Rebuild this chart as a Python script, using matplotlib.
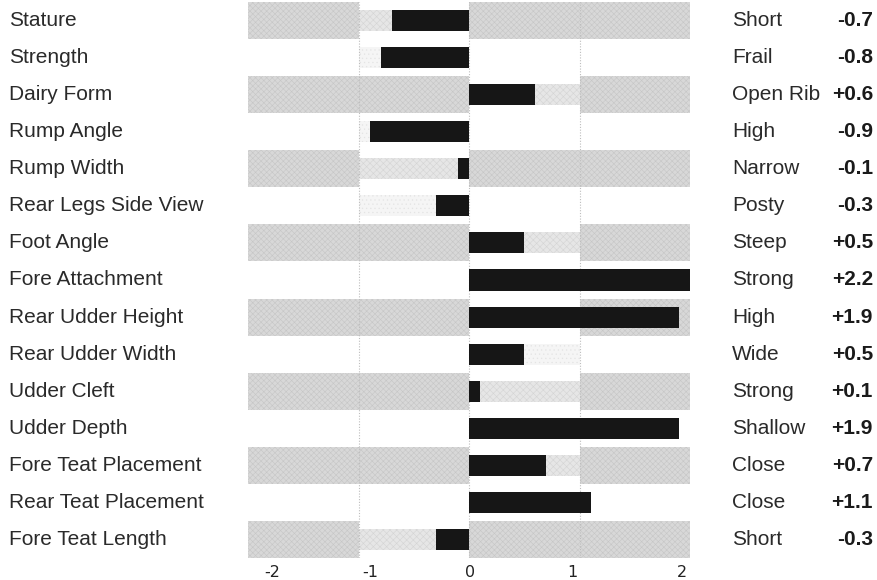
import matplotlib
matplotlib.use("Agg")
import matplotlib.pyplot as plt
import matplotlib.transforms as mtransforms
import numpy as np

traits = ["Stature", "Strength", "Dairy Form", "Rump Angle", "Rump Width",
          "Rear Legs Side View", "Foot Angle", "Fore Attachment",
          "Rear Udder Height", "Rear Udder Width", "Udder Cleft",
          "Udder Depth", "Fore Teat Placement", "Rear Teat Placement",
          "Fore Teat Length"]
descriptors = ["Short", "Frail", "Open Rib", "High", "Narrow", "Posty",
               "Steep", "Strong", "High", "Wide", "Strong", "Shallow",
               "Close", "Close", "Short"]
values = [-0.7, -0.8, 0.6, -0.9, -0.1, -0.3, 0.5, 2.2, 1.9, 0.5, 0.1,
          1.9, 0.7, 1.1, -0.3]

# tick labels sit a bit inside the grid lines in the original
tick_pos = [-1.78, -0.89, 0.01, 0.94, 1.93]
tick_labels = ["-2", "-1", "0", "1", "2"]

plt.rcParams["font.family"] = ["Liberation Sans", "DejaVu Sans"]
plt.rcParams["hatch.linewidth"] = 0.4

fig = plt.figure(figsize=(8.77, 5.8), dpi=100)
ax = fig.add_axes([248 / 877, 1 - 558 / 580, 442 / 877, 556 / 580])

band_gray = "#d8d8d8"
band_light = "#e6e6e6"
white_light = "#f5f5f5"
bar_h = 0.57

for i, v in enumerate(values):
    side = 1 if v >= 0 else -1
    if i % 2 == 0:
        ax.barh(i, 4, left=-2, height=1, color=band_gray, hatch="xxxxxx",
                edgecolor="#c6c6c6", linewidth=0, zorder=1)
        ax.barh(i, side, left=0, height=1, color="white", linewidth=0,
                zorder=2)
        ax.barh(i, side, left=0, height=bar_h, color=band_light,
                hatch="xxxxx", edgecolor="#d4d4d4", linewidth=0, zorder=3)
    else:
        ax.barh(i, side, left=0, height=bar_h, color=white_light,
                hatch="....", edgecolor="#e4e4e4", linewidth=0, zorder=3)
    ax.barh(i, v, left=0, height=bar_h, color="#161616", linewidth=0,
            zorder=5)

for gx in [-1, 0, 1]:
    ax.axvline(gx, color="#bdbdbd", linewidth=0.8, linestyle=(0, (1, 1.5)),
               zorder=4)

ax.set_xlim(-2, 2)
ax.set_ylim(len(values) - 0.5, -0.5)
ax.set_yticks([])
ax.set_xticks(tick_pos, labels=tick_labels)
ax.tick_params(axis="x", length=0, pad=5, labelsize=11.5, colors="#222222")
for lbl in ax.get_xticklabels():
    lbl.set_family(["DejaVu Sans"])
for s in ax.spines.values():
    s.set_visible(False)

trans = mtransforms.blended_transform_factory(fig.transFigure, ax.transData)
for i, (t, d, v) in enumerate(zip(traits, descriptors, values)):
    ax.text(9 / 877, i, t, transform=trans, ha="left", va="center",
            fontsize=15, color="#2a2a2a")
    ax.text(732 / 877, i, d, transform=trans, ha="left", va="center",
            fontsize=15, color="#2a2a2a")
    ax.text(873 / 877, i, f"{v:+.1f}", transform=trans, ha="right",
            va="center", fontsize=15, fontweight="bold", color="#1a1a1a")

fig.savefig("out.png", dpi=100)
